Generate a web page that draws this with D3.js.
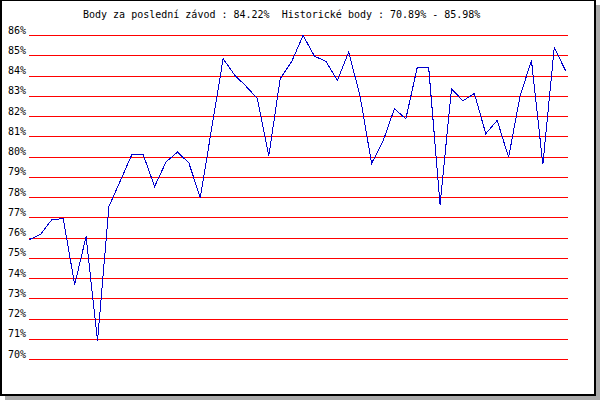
<!DOCTYPE html>
<html>
<head>
<meta charset="utf-8">
<script src="https://cdn.jsdelivr.net/npm/d3@7"></script>
<style>
  html, body { margin: 0; padding: 0; background: #ffffff; }
  svg { display: block; }
  text { font-family: "DejaVu Sans Mono", "Liberation Mono", monospace; font-size: 10px; fill: #000; }
</style>
</head>
<body>
<div id="chart"></div>
<script>
const titleText = "Body za poslední závod : 84.22%  Historické body : 70.89% - 85.98%";
const yTicks = [70, 71, 72, 73, 74, 75, 76, 77, 78, 79, 80, 81, 82, 83, 84, 85, 86];
const races = d3.range(1, 49);
const points = [
  75.89, 76.15, 76.88, 76.93, 73.67, 76.05, 70.89, 77.53, 78.80, 80.09,
  80.09, 78.52, 79.73, 80.22, 79.68, 77.97, 81.40, 84.83, 84.03, 83.47,
  82.86, 80.03, 83.85, 84.68, 85.98, 84.95, 84.70, 83.76, 85.16, 82.96,
  79.66, 80.75, 82.36, 81.86, 84.40, 84.40, 77.63, 83.34, 82.75, 83.11,
  81.13, 81.78, 79.96, 82.97, 84.75, 79.61, 85.39, 84.22
];

const W = 600, H = 400;
const svg = d3.select("#chart").append("svg").attr("width", W).attr("height", H);

// frame with shadow
svg.append("rect").attr("x", 5).attr("y", 396).attr("width", 595).attr("height", 4).attr("fill", "#aaaaaa");
svg.append("rect").attr("x", 596).attr("y", 5).attr("width", 4).attr("height", 395).attr("fill", "#aaaaaa");
svg.append("rect").attr("x", 0).attr("y", 0).attr("width", 596).attr("height", 396).attr("fill", "#000");
svg.append("rect").attr("x", 2).attr("y", 1).attr("width", 592).attr("height", 393).attr("fill", "#fff");

const x = d3.scaleLinear().domain([0, races.length - 1]).range([29, 565.7]);
const y = d3.scaleLinear().domain([70, 86]).range([359, 35]);

// title
svg.append("text")
  .attr("x", 83).attr("y", 18)
  .style("white-space", "pre")
  .attr("xml:space", "preserve")
  .text(titleText);

// gridlines
const grid = svg.append("g");
grid.selectAll("line").data(yTicks).enter().append("line")
  .attr("x1", 29).attr("x2", 568)
  .attr("y1", d => Math.round(y(d)) + 0.5)
  .attr("y2", d => Math.round(y(d)) + 0.5)
  .attr("stroke", "#ff0000").attr("stroke-width", 1)
  .attr("shape-rendering", "crispEdges");

// y labels via axis generator (domain/ticks hidden)
const yAxis = d3.axisLeft(y).tickValues(yTicks).tickSize(0).tickPadding(0).tickFormat(d => d + "%");
const ga = svg.append("g").attr("transform", "translate(26,0)").call(yAxis);
ga.select(".domain").remove();
ga.selectAll("text")
  .attr("font-family", null).attr("font-size", null)
  .attr("dy", null)
  .attr("y", -2)
  .style("font-family", "'DejaVu Sans Mono', monospace")
  .style("font-size", "10px")
  .attr("fill", "#000");

// data line
const line = d3.line().x((d, i) => x(i)).y(d => y(d));
svg.append("path")
  .datum(points)
  .attr("d", line)
  .attr("fill", "none")
  .attr("stroke", "#0000cc")
  .attr("stroke-width", 1)
  .attr("shape-rendering", "crispEdges");
</script>
</body>
</html>
